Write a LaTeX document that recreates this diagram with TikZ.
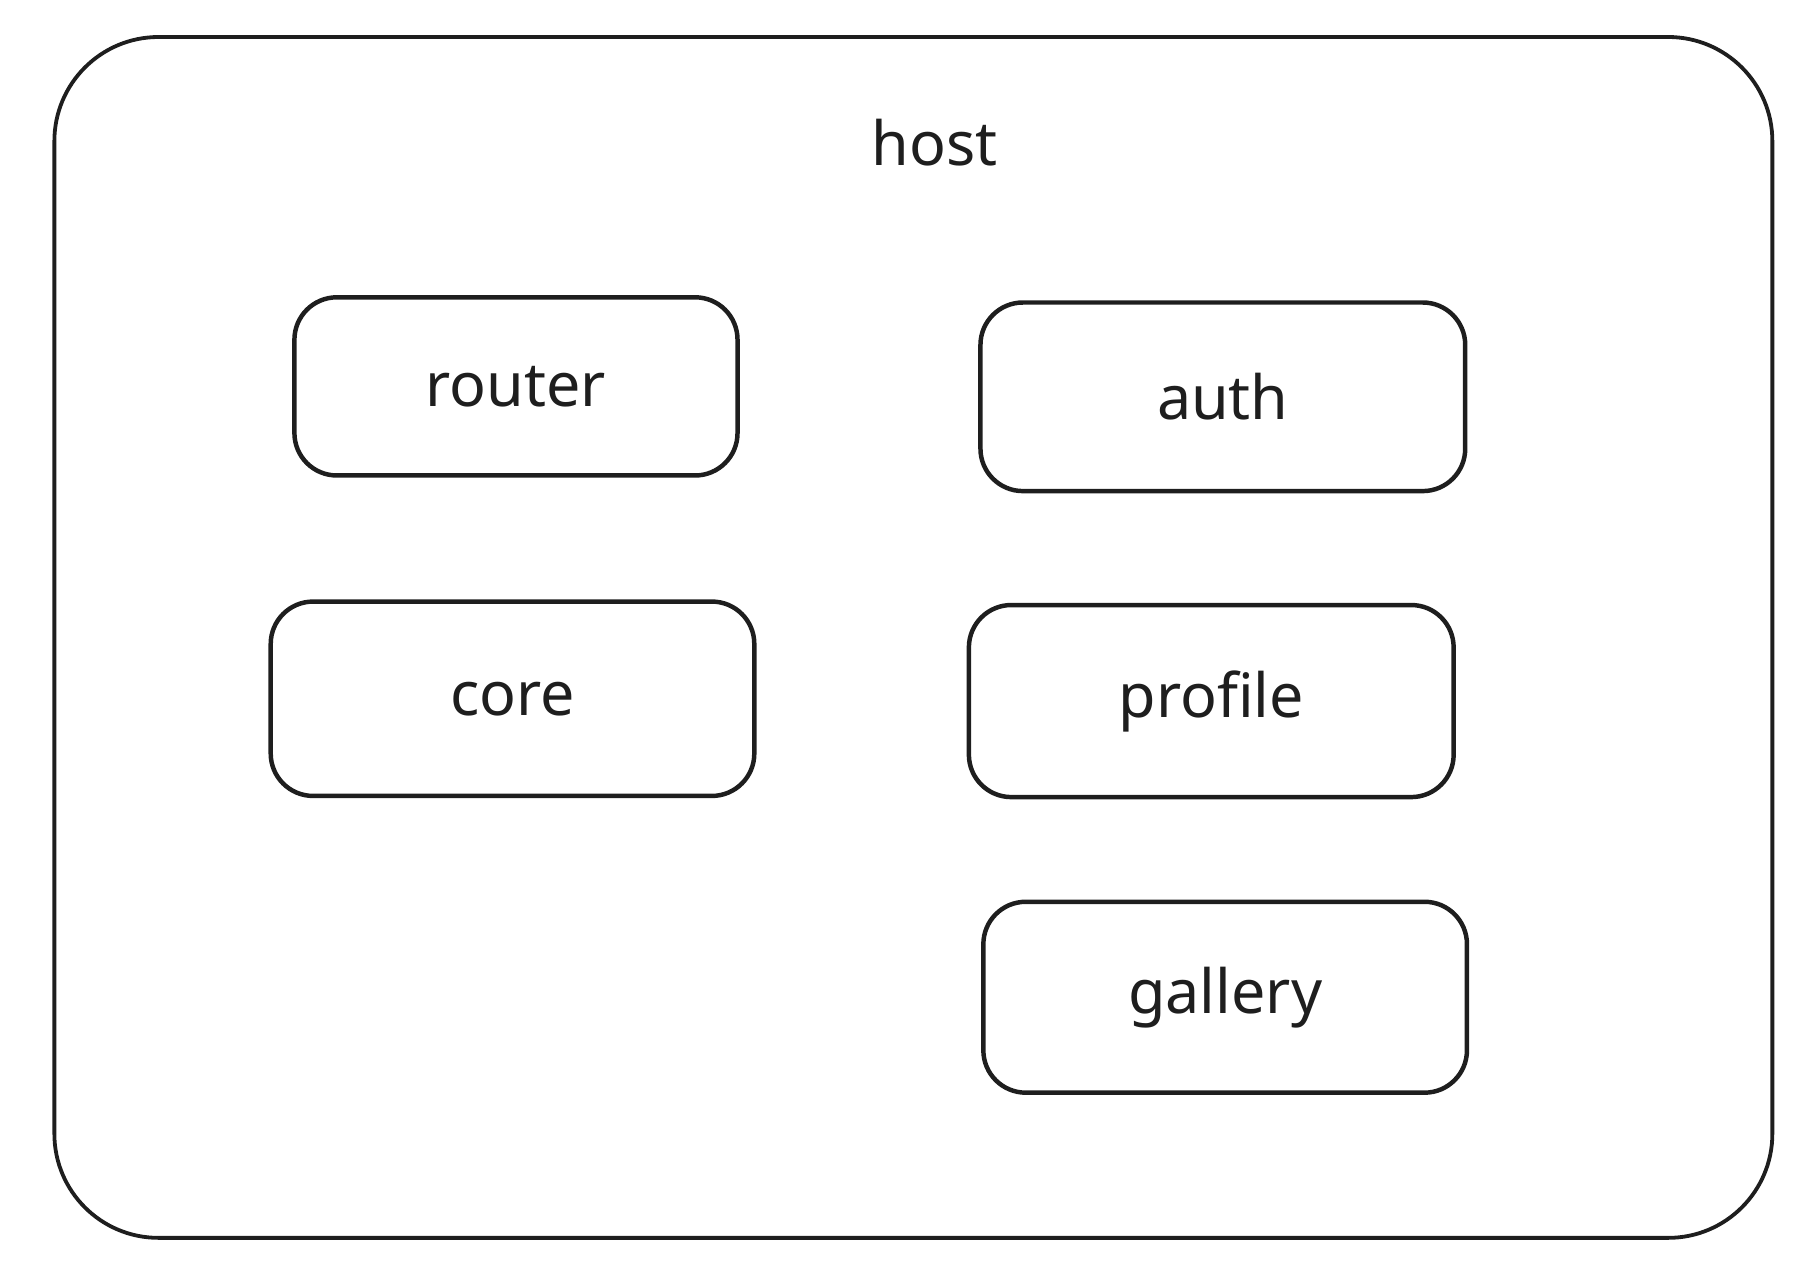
\documentclass[tikz,border=0pt]{standalone}
\usepackage{fontspec}
\setmainfont{Noto Sans}
\definecolor{ink}{HTML}{1E1E1E}

\tikzset{
  module/.style={draw=ink, line width=3.3pt, rounded corners=1.1cm, text=ink,
    font=\fontsize{45}{54}\selectfont, inner sep=0pt},
}

\begin{document}
\begin{tikzpicture}[x=0.03cm, y=0.03cm]

\useasboundingbox (0,0) rectangle (1568,1091);

\draw[ink, line width=2.8pt, rounded corners=2.7cm] (47,21) rectangle (1532,1059);
\node (host) [text=ink, font=\fontsize{45}{54}\selectfont] at (808,968) {host};

\node (router)  [module, minimum width=11.49cm, minimum height=4.62cm] at (446,757) {router};
\node (auth)    [module, minimum width=12.57cm, minimum height=4.89cm] at (1057,748) {auth};
\node (core)    [module, minimum width=12.54cm, minimum height=5.04cm] at (443,487) {core};
\node (profile) [module, minimum width=12.57cm, minimum height=4.98cm] at (1047,485) {profile};
\node (gallery) [module, minimum width=12.54cm, minimum height=4.95cm] at (1059,229) {gallery};

\end{tikzpicture}
\end{document}
